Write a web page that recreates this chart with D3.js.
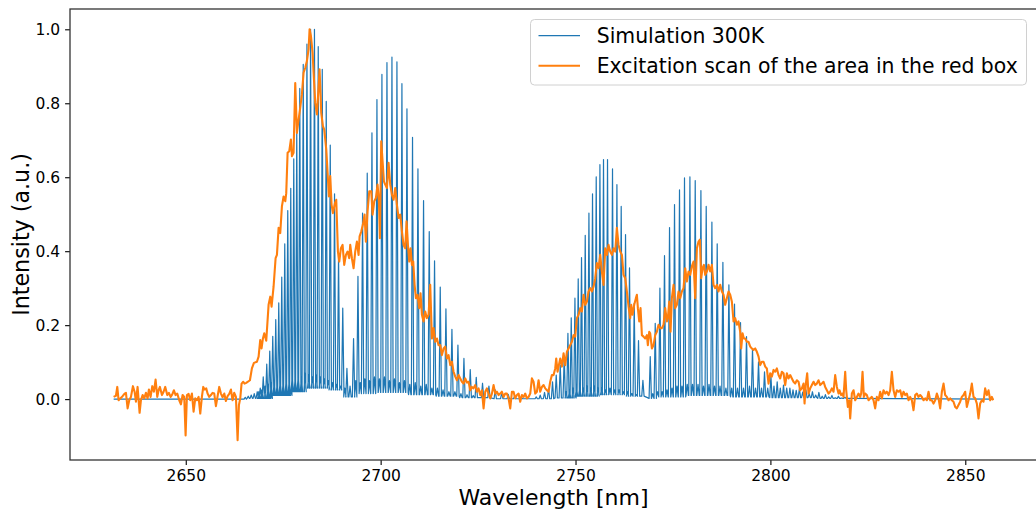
<!DOCTYPE html>
<html>
<head>
<meta charset="utf-8">
<script src="https://cdn.jsdelivr.net/npm/d3@7"></script>
<style>
  body { margin: 0; background: white; }
  text { font-family: "DejaVu Sans", sans-serif; fill: black; }
</style>
</head>
<body>
<div id="chart"></div>
<script>
"use strict"

const xTicks = [2650, 2700, 2750, 2800, 2850]
const yTicks = [0, 0.2, 0.4, 0.6, 0.8, 1.0]
const seriesNames = ["Simulation 300K", "Excitation scan of the area in the red box"]

// simulated spectrum: strong rovibrational lines [wavelength, intensity]
const simLines = [
  [2665.26,0.005],[2666.03,0.008],[2666.80,0.011],[2667.57,0.015],[2668.34,0.02],[2669.11,0.03],
  [2669.88,0.06],[2670.78,0.095],[2671.55,0.13],[2672.32,0.17],[2673.09,0.215],[2673.86,0.26],
  [2674.63,0.33],[2675.40,0.42],[2676.17,0.51],[2676.94,0.57],[2677.71,0.65],[2678.48,0.73],
  [2679.25,0.84],[2680.14,0.905],[2681.09,0.96],[2682.02,1.0],[2683.02,1.0],[2683.99,0.953],
  [2685.02,0.892],[2686.04,0.805],[2687.07,0.687],[2688.17,0.555],[2689.20,0.39],[2690.28,0.246],
  [2691.35,0.083],
  [2693.05,0.164],[2694.18,0.332],[2695.36,0.503],[2696.56,0.611],[2697.77,0.72],[2699.05,0.81],
  [2700.33,0.878],[2701.62,0.91],[2702.90,0.925],[2704.18,0.912],[2705.46,0.853],[2706.75,0.785],
  [2708.18,0.708],[2709.57,0.623],[2711.01,0.537],[2712.47,0.453],[2713.83,0.374],[2715.29,0.303],
  [2716.75,0.244],[2718.29,0.189],[2719.83,0.146],[2721.37,0.11],[2722.99,0.08],[2724.53,0.059],
  [2726.14,0.043],[2727.78,0.035],[2729.40,0.025],[2731.07,0.018],[2732.74,0.013],[2734.40,0.009],
  [2736.07,0.006],
  [2739.92,0.006],[2740.94,0.011],[2742.05,0.018],[2743.07,0.029],[2744.10,0.047],[2745.05,0.065],
  [2746.08,0.092],[2747.10,0.117],[2748.05,0.178],[2748.90,0.22],[2749.85,0.273],[2750.69,0.325],
  [2751.54,0.383],[2752.49,0.443],[2753.44,0.503],[2754.36,0.555],[2755.31,0.601],[2756.26,0.634],
  [2757.18,0.648],[2758.21,0.648],[2759.49,0.623],[2760.62,0.58],[2761.72,0.521],[2762.83,0.445],
  [2763.85,0.355],[2765.06,0.259],[2766.16,0.158],[2767.29,0.051],
  [2769.17,0.115],[2770.45,0.205],[2771.65,0.3],[2772.83,0.388],[2774.12,0.464],[2775.40,0.526],
  [2776.68,0.566],[2777.96,0.598],[2779.35,0.601],[2780.71,0.591],[2782.17,0.564],[2783.53,0.521],
  [2784.99,0.479],[2786.35,0.42],[2787.81,0.37],[2789.35,0.309],[2790.79,0.257],[2792.33,0.207],
  [2793.87,0.169],[2795.41,0.136],[2796.95,0.101],[2798.49,0.074],[2800.13,0.063],[2801.74,0.047],
  [2803.36,0.038],[2805.00,0.03],[2806.62,0.024],[2808.29,0.019],[2809.95,0.015],[2811.62,0.011],
  [2813.29,0.008],[2814.96,0.006],[2816.62,0.004],[2818.29,0.003],[2819.96,0.002]
]

// weak hot-band lines sitting between the strong ones
const simWeak = [
  [2668.73,0.02],[2669.50,0.025],[2670.34,0.035],[2671.17,0.04],[2671.93,0.045],[2672.70,0.05],
  [2673.47,0.045],[2674.24,0.055],[2675.01,0.05],[2675.78,0.06],[2676.55,0.055],[2677.32,0.065],
  [2678.09,0.06],[2678.86,0.065],[2679.68,0.06],[2680.61,0.07],[2681.55,0.065],[2682.50,0.06],
  [2683.48,0.065],[2684.51,0.06],[2685.53,0.055],[2686.56,0.05],[2687.58,0.045],[2688.69,0.04],
  [2689.74,0.035],[2690.82,0.03],[2692.15,0.035],[2693.61,0.05],[2694.77,0.045],[2695.95,0.055],
  [2697.15,0.05],[2698.41,0.06],[2699.69,0.055],[2700.98,0.06],[2702.26,0.05],[2703.54,0.055],
  [2704.82,0.045],[2706.11,0.05],[2707.47,0.04],[2708.88,0.045],[2710.29,0.035],[2711.70,0.04],
  [2713.14,0.03],[2714.57,0.03],[2716.01,0.025],[2717.52,0.02],[2719.06,0.02],[2720.60,0.015],
  [2722.17,0.012],[2723.76,0.01],
  [2747.61,0.02],[2748.46,0.025],[2749.36,0.03],[2750.26,0.03],[2751.10,0.035],[2752.00,0.03],
  [2752.95,0.035],[2753.90,0.03],[2754.82,0.035],[2755.77,0.03],[2756.72,0.03],[2757.70,0.025],
  [2758.85,0.03],[2760.06,0.025],[2761.16,0.025],[2762.26,0.02],[2763.34,0.02],[2764.44,0.015],
  [2765.60,0.012],
  [2769.81,0.015],[2771.04,0.02],[2772.24,0.02],[2773.47,0.025],[2774.76,0.03],[2776.04,0.035],
  [2777.32,0.035],[2778.66,0.04],[2780.02,0.04],[2781.43,0.04],[2782.84,0.035],[2784.25,0.04],
  [2785.66,0.035],[2787.07,0.035],[2788.58,0.03],[2790.07,0.03],[2791.56,0.03],[2793.10,0.03],
  [2794.64,0.035],[2796.18,0.03],[2797.72,0.03],[2799.31,0.03],[2800.92,0.035],[2802.54,0.03],
  [2804.18,0.03],[2805.80,0.025],[2807.44,0.028],[2809.11,0.025],[2810.78,0.02],[2812.44,0.018],
  [2814.11,0.012],[2815.78,0.01],[2817.45,0.008],[2819.11,0.005]
]

// level the simulation falls back to between lines
const simFloor = [
  [2631.5,0],[2666,0.002],[2672,0.01],[2677,0.02],[2681,0.03],[2687,0.025],[2690.5,0.006],
  [2694,0.015],[2699,0.018],[2707,0.012],[2714,0.008],[2720,0.004],[2728,0.001],[2745,0.003],
  [2750,0.008],[2756,0.012],[2763,0.008],[2767.5,0.002],[2771,0.006],[2778,0.01],[2790,0.006],
  [2800,0.004],[2812,0.002],[2820,0],[2857.2,0]
]

// measured excitation scan [wavelength, intensity]
const scan = [
  [2631.49,0.006],[2632.08,0.009],[2632.43,0.033],[2632.77,-0.003],[2633.20,0.002],[2633.79,0.008],
  [2634.31,0.015],[2634.65,0.017],[2635.08,-0.025],[2635.50,-0.003],[2635.93,0.006],[2636.45,0.035],
  [2636.87,0.020],[2637.22,-0.007],[2637.64,0.033],[2638.16,-0.037],[2638.50,-0.003],[2638.93,0.011],
  [2639.35,0.002],[2639.78,0.017],[2640.21,0.002],[2640.55,0.026],[2640.98,0.006],[2641.41,0.035],
  [2641.83,0.020],[2642.26,0.053],[2642.69,0.006],[2643.03,0.024],[2643.37,0.033],[2643.89,0.011],
  [2644.31,0.020],[2644.74,0.033],[2645.25,0.011],[2645.68,0.017],[2646.11,0.006],[2646.54,0.013],
  [2646.96,0.024],[2647.39,0.011],[2647.82,0.015],[2648.33,-0.003],[2648.76,-0.014],[2649.19,0.011],
  [2649.61,0.006],[2649.96,-0.098],[2650.30,0.011],[2650.73,0.014],[2651.15,-0.003],[2651.58,0.015],
  [2652.01,-0.034],[2652.44,0.002],[2652.86,-0.003],[2653.29,0.006],[2653.72,-0.039],[2654.14,0.006],
  [2654.49,0.033],[2654.83,0.026],[2655.26,0.029],[2655.60,0.015],[2656.03,0.006],[2656.46,0.011],
  [2656.88,0.017],[2657.31,0.015],[2657.74,-0.019],[2658.17,0.008],[2658.59,0.033],[2659.02,0.015],
  [2659.45,0.005],[2659.88,0.015],[2660.30,-0.005],[2660.73,0.008],[2661.16,0.014],[2661.59,0.026],
  [2662.01,-0.003],[2662.44,0.017],[2662.87,0.006],[2663.30,-0.111],[2663.64,-0.016],[2663.98,0.002],
  [2664.32,0.042],[2664.75,0.047],[2665.09,0.042],[2665.52,0.044],[2665.95,0.047],[2666.46,0.051],
  [2666.97,0.083],[2667.49,0.098],
  [2668.26,0.101],[2668.69,0.115],[2669.11,0.160],[2669.45,0.137],[2669.80,0.164],[2670.14,0.178],
  [2670.65,0.158],[2671.25,0.255],[2671.68,0.277],[2672.02,0.250],[2672.53,0.304],[2673.05,0.381],
  [2673.39,0.390],[2673.82,0.463],[2674.24,0.449],[2674.67,0.521],[2675.10,0.548],[2675.53,0.535],
  [2675.78,0.557],[2676.13,0.666],[2676.55,0.670],[2676.98,0.702],[2677.24,0.657],[2677.66,0.666],
  [2678.09,0.855],[2678.52,0.720],[2678.95,0.756],[2679.37,0.788],[2679.80,0.824],[2680.23,0.883],
  [2680.66,0.896],[2681.08,0.914],[2681.51,0.946],[2681.77,1.000],[2682.11,0.982],[2682.54,0.937],
  [2682.80,0.883],[2683.22,0.801],[2683.65,0.770],[2683.99,0.828],[2684.33,0.892],[2684.76,0.774],
  [2685.19,0.738],[2685.53,0.729],[2686.05,0.675],[2686.39,0.612],[2686.73,0.548],[2687.07,0.603],
  [2687.41,0.526],[2687.76,0.503],[2688.27,0.530],[2688.61,0.539],
  [2689.04,0.399],[2689.38,0.372],[2689.81,0.408],[2690.23,0.417],[2690.66,0.363],[2691.09,0.390],
  [2691.52,0.399],[2691.94,0.381],[2692.20,0.417],[2692.63,0.381],[2693.06,0.354],[2693.48,0.399],
  [2693.91,0.426],[2694.34,0.390],[2694.60,0.440],[2695.02,0.453],[2695.45,0.472],[2695.88,0.499],
  [2696.22,0.426],[2696.65,0.508],[2697.08,0.562],[2697.59,0.562],[2697.93,0.499],[2698.36,0.535],
  [2698.79,0.544],[2699.21,0.580],[2699.56,0.535],[2699.81,0.435],[2700.15,0.697],[2700.50,0.643],
  [2700.84,0.589],[2701.18,0.580],[2701.61,0.571],[2702.04,0.639],[2702.46,0.580],[2702.89,0.553],
  [2703.32,0.539],[2703.75,0.571],[2704.17,0.526],[2704.60,0.490],[2705.03,0.499],[2705.46,0.453],
  [2705.88,0.417],[2706.31,0.408],[2706.65,0.481],[2707.00,0.417],[2707.34,0.372],[2707.68,0.408],
  [2708.02,0.363],[2708.36,0.372],[2708.71,0.309],[2709.05,0.273],[2709.48,0.282],[2709.90,0.246],
  [2710.24,0.286],[2710.59,0.228],[2711.01,0.210],[2711.44,0.237],[2711.87,0.219],[2712.30,0.228],
  [2712.72,0.309],[2713.15,0.164],[2713.58,0.192],[2714.01,0.155],[2714.44,0.164],[2714.86,0.146],
  [2715.29,0.146],[2715.72,0.119],[2716.15,0.137],[2716.57,0.142],[2717.00,0.110],[2717.43,0.119],
  [2717.86,0.092],[2718.28,0.101],[2718.71,0.074],[2719.14,0.061],[2719.57,0.051],[2719.99,0.065],
  [2720.42,0.056],[2720.85,0.047],[2721.28,0.042],
  [2721.70,0.056],[2722.13,0.045],[2722.56,0.047],[2722.99,0.024],[2723.40,0.033],[2723.84,0.029],
  [2724.27,0.038],[2724.70,0.020],[2725.13,0.029],[2725.55,0.011],[2725.98,0.024],[2726.41,-0.025],
  [2726.84,0.020],[2727.26,0.029],[2727.69,0.015],[2728.12,0.002],[2728.55,0.015],[2728.97,0.038],
  [2729.40,0.015],[2729.83,0.020],[2730.26,0.011],[2730.68,0.015],[2731.11,0.020],[2731.54,0.006],
  [2731.97,0.015],[2732.39,0.015],[2732.82,0.002],[2733.25,-0.025],[2733.68,0.020],[2734.10,0.020],
  [2734.53,0.002],[2734.96,0.011],[2735.39,0.015],[2735.81,-0.007],[2736.24,0.011],[2736.67,0.006],
  [2737.10,0.015],[2737.52,0.002],[2737.95,0.006],[2738.38,0.015],[2738.81,0.056],[2739.23,0.047],
  [2739.66,0.015],[2740.09,0.020],[2740.52,0.051],[2740.94,0.020],[2741.37,0.033],[2741.80,0.038],
  [2742.23,0.029],[2742.66,0.024],[2743.08,0.020],[2743.51,0.047],[2743.94,0.065],[2744.37,0.065],
  [2744.79,0.083],[2745.05,0.110],[2745.39,0.074],[2745.73,0.092],[2746.08,0.110],[2746.50,0.088],
  [2746.93,0.124],[2747.36,0.092],[2747.79,0.128],[2748.21,0.137],[2748.64,0.146],[2749.07,0.155],
  [2749.50,0.173],[2749.92,0.169],[2750.35,0.219],[2750.78,0.228],[2751.21,0.246],[2751.63,0.237],
  [2752.06,0.282],[2752.49,0.255],[2752.92,0.264],[2753.34,0.291],[2753.77,0.300],[2754.20,0.291],
  [2754.63,0.304],[2755.05,0.327],[2755.48,0.368],[2755.91,0.354],[2756.34,0.390],[2756.76,0.345],
  [2757.19,0.309],[2757.62,0.408],[2758.05,0.390],[2758.47,0.417],[2758.90,0.399],[2759.33,0.390],
  [2759.76,0.408],[2760.19,0.399],[2760.61,0.463],[2761.04,0.417],[2761.47,0.399],[2761.90,0.390],
  [2762.32,0.336],[2762.75,0.327],[2763.18,0.291],[2763.61,0.250],
  [2764.03,0.219],[2764.29,0.255],[2764.63,0.228],[2765.06,0.255],[2765.49,0.273],[2765.74,0.282],
  [2766.00,0.246],[2766.34,0.210],[2766.68,0.246],[2767.03,0.173],[2767.45,0.169],[2767.88,0.164],
  [2768.31,0.173],[2768.56,0.146],[2768.91,0.182],[2769.16,0.178],[2769.59,0.137],[2770.02,0.146],
  [2770.45,0.173],[2770.87,0.182],[2771.30,0.201],[2771.73,0.192],[2772.16,0.192],[2772.58,0.201],
  [2773.01,0.246],[2773.44,0.210],[2773.70,0.219],[2774.04,0.264],[2774.38,0.182],[2774.72,0.273],
  [2775.15,0.309],[2775.58,0.246],[2776.00,0.255],[2776.43,0.291],[2776.86,0.273],[2777.29,0.291],
  [2777.71,0.300],[2778.14,0.354],[2778.57,0.318],[2779.00,0.345],[2779.43,0.336],[2779.85,0.359],
  [2780.28,0.372],[2780.71,0.273],[2781.14,0.408],[2781.56,0.426],[2781.91,0.431],[2782.25,0.327],
  [2782.59,0.354],[2782.93,0.363],[2783.27,0.336],[2783.70,0.345],[2784.13,0.363],[2784.56,0.345],
  [2784.98,0.363],[2785.41,0.309],[2785.84,0.300],[2786.27,0.309],[2786.69,0.291],[2787.12,0.309],
  [2787.55,0.291],[2787.98,0.282],[2788.40,0.255],[2788.83,0.273],[2789.26,0.291],[2789.69,0.282],
  [2790.11,0.264],[2790.54,0.210],[2790.97,0.219],[2791.40,0.201],[2791.82,0.210],[2792.25,0.182],
  [2792.51,0.137],[2792.85,0.178],[2793.19,0.164],[2793.54,0.164],[2793.96,0.155],[2794.39,0.155],
  [2794.82,0.142],[2795.25,0.137],[2795.67,0.133],[2796.10,0.137],[2796.53,0.128],[2796.96,0.115],
  [2797.38,0.092],[2797.81,0.101],[2798.24,0.101],[2798.67,0.088],[2799.09,0.083],[2799.52,0.042],
  [2799.95,0.070],[2800.38,0.061],[2800.80,0.079],[2801.23,0.074],[2801.66,0.083],[2802.09,0.065],
  [2802.51,0.056],[2802.94,0.074],[2803.37,0.070],[2803.80,0.038],[2804.23,0.070],[2804.65,0.056],
  [2805.08,0.065],[2805.51,0.056],[2805.93,0.047],
  [2806.36,0.042],[2806.79,0.051],[2807.22,0.047],[2807.64,0.024],[2808.07,0.029],[2808.50,0.042],
  [2808.76,-0.012],[2809.10,0.042],[2809.44,0.070],[2809.78,0.015],[2810.21,0.029],[2810.64,0.038],
  [2811.07,0.047],[2811.49,0.038],[2811.92,0.042],[2812.35,0.051],[2812.78,0.038],[2813.20,0.042],
  [2813.63,0.047],[2814.06,0.033],[2814.49,0.024],[2814.91,0.015],[2815.34,0.020],[2815.77,0.029],
  [2816.20,0.020],[2816.62,0.065],[2817.05,0.033],[2817.48,0.015],[2817.74,0.024],[2818.16,0.011],
  [2818.51,0.015],[2818.76,0.006],[2819.19,0.074],[2819.45,0.024],[2819.87,-0.021],[2820.22,-0.003],
  [2820.47,-0.052],[2820.90,0.015],[2821.33,0.024],[2821.75,-0.003],[2822.18,0.006],[2822.61,0.015],
  [2823.04,0.006],[2823.29,0.015],[2823.64,0.074],[2823.98,0.006],[2824.32,0.015],[2824.75,0.011],
  [2825.18,-0.003],[2825.60,0.002],[2826.03,0.006],[2826.46,-0.003],[2826.88,-0.025],[2827.31,0.006],
  [2827.74,-0.003],[2828.17,0.020],[2828.60,0.002],[2829.02,0.024],[2829.45,0.015],[2829.88,0.020],
  [2830.31,0.011],[2830.73,0.024],[2831.16,0.074],[2831.59,0.024],[2832.02,0.006],[2832.44,0.024],
  [2832.87,0.020],[2833.30,0.024],[2833.73,0.006],[2834.15,0.020],[2834.58,0.011],[2835.01,0.015],
  [2835.44,-0.003],[2835.86,0.006],[2836.29,-0.003],[2836.72,-0.030],[2837.15,0.011],[2837.57,0.015],
  [2838.00,0.006],[2838.43,0.011],[2838.86,0.006],[2839.29,-0.003],[2839.71,0.002],[2840.14,-0.003],
  [2840.57,0.020],[2841.00,-0.003],[2841.42,-0.003],[2841.85,-0.012],[2842.28,-0.003],[2842.71,0.015],
  [2843.13,0.002],[2843.56,-0.025],[2843.99,0.020],[2844.42,0.042],[2844.84,0.011],[2845.27,0.006],
  [2845.70,-0.003],[2846.13,0.002],[2846.55,-0.003],[2846.98,-0.007],[2847.41,-0.021],[2847.84,-0.025],
  [2848.26,-0.016],[2848.69,-0.007],[2849.12,0.006],[2849.55,0.011],[2849.97,0.020],[2850.40,-0.021],
  [2850.83,-0.003],[2851.26,0.015],[2851.68,0.042],[2852.11,0.006],[2852.54,0.002],[2852.97,-0.012],
  [2853.39,-0.052],[2853.82,-0.012],[2854.25,-0.003],[2854.68,-0.007],[2855.10,0.029],[2855.53,0.011],
  [2855.96,0.024],[2856.39,-0.003],[2856.81,0.006],[2857.16,-0.003]
]

const colors = ["#1f77b4", "#ff7f0e"]

function floorAt(w) {
  let level = simFloor[0][1]
  for (const [k, v] of simFloor) if (k <= w) level = v
  return level
}

// each line becomes a narrow spike rising from the local floor
function simPoints() {
  const lines = simLines.concat(simWeak).sort((a, b) => a[0] - b[0])
  const pts = [simFloor[0]]
  lines.forEach(([w, h]) => {
    const f = Math.min(floorAt(w), h)
    pts.push([w - 0.3, f], [w, h], [w + 0.3, f])
  })
  pts.push(simFloor[simFloor.length - 1])
  return pts
}

function drawChart() {
  const width = 1036, height = 510
  const margin = {top: 9, right: -1, bottom: 50, left: 70}

  const svg = d3.select("#chart").append("svg")
    .attr("width", width)
    .attr("height", height)
    .attr("viewBox", `0,0,${width},${height}`)

  svg.append("rect").attr("width", width).attr("height", height).attr("fill", "white")

  const x = d3.scaleLinear()
    .domain([2620.3, 2868.4])
    .range([margin.left, width - margin.right])

  const y = d3.scaleLinear()
    .domain([-0.1646, 1.0549])
    .range([height - margin.bottom, margin.top])

  svg.append("clipPath").attr("id", "plot-clip")
    .append("rect")
      .attr("x", margin.left).attr("y", margin.top)
      .attr("width", width - margin.right - margin.left)
      .attr("height", height - margin.bottom - margin.top)

  const line = d3.line().x(d => x(d[0])).y(d => y(d[1]))

  const plot = svg.append("g").attr("clip-path", "url(#plot-clip)")

  plot.append("path")
    .datum(simPoints())
    .attr("d", line)
    .attr("fill", "none")
    .attr("stroke", colors[0])
    .attr("stroke-width", 1.2)
    .attr("stroke-linejoin", "round")

  plot.append("path")
    .datum(scan)
    .attr("d", line)
    .attr("fill", "none")
    .attr("stroke", colors[1])
    .attr("stroke-width", 2.1)
    .attr("stroke-linejoin", "round")

  const axisBottom = d3.axisBottom(x)
    .tickValues(xTicks)
    .tickFormat(d3.format("d"))
    .tickSize(4.9)
    .tickSizeOuter(0)
    .tickPadding(4.9)

  const axisLeft = d3.axisLeft(y)
    .tickValues(yTicks)
    .tickFormat(d3.format(".1f"))
    .tickSize(4.9)
    .tickSizeOuter(0)
    .tickPadding(4.9)

  const gx = svg.append("g")
    .attr("transform", `translate(0 ${height - margin.bottom})`)
    .call(axisBottom)

  const gy = svg.append("g")
    .attr("transform", `translate(${margin.left} 0)`)
    .call(axisLeft)

  for (const g of [gx, gy]) {
    g.select(".domain").remove()
    g.selectAll(".tick line").attr("stroke", "black").attr("stroke-width", 1.1)
    g.selectAll(".tick text")
      .attr("fill", "black")
      .style("font-family", "DejaVu Sans")
      .style("font-size", "15.5px")
  }

  // axes frame
  svg.append("rect")
    .attr("x", margin.left)
    .attr("y", margin.top)
    .attr("width", width - margin.right - margin.left)
    .attr("height", height - margin.bottom - margin.top)
    .attr("fill", "none")
    .attr("stroke", "#333")
    .attr("stroke-width", 1.3)

  svg.append("text")
    .attr("x", (margin.left + width - margin.right) / 2)
    .attr("y", 505)
    .attr("text-anchor", "middle")
    .style("font-size", "22px")
    .text("Wavelength [nm]")

  svg.append("text")
    .attr("transform", `translate(29 ${(margin.top + height - margin.bottom) / 2}) rotate(-90)`)
    .attr("text-anchor", "middle")
    .style("font-size", "22.2px")
    .text("Intensity (a.u.)")

  // legend, upper right
  const legend = svg.append("g")
  legend.append("rect")
    .attr("x", 530.5)
    .attr("y", 19.5)
    .attr("width", 496)
    .attr("height", 65.5)
    .attr("rx", 4)
    .attr("fill", "white")
    .attr("fill-opacity", 0.8)
    .attr("stroke", "#d0d0d0")
    .attr("stroke-width", 1)

  const items = legend.selectAll("g")
    .data(seriesNames)
    .enter()
    .append("g")
    .attr("transform", (d, i) => `translate(0 ${35.7 + i * 30})`)

  items.append("line")
    .attr("x1", 538.5).attr("x2", 580)
    .attr("stroke", (d, i) => colors[i])
    .attr("stroke-width", (d, i) => i == 0 ? 1.2 : 2.1)

  items.append("text")
    .attr("x", 596.7)
    .attr("y", 7.6)
    .style("font-size", "20.4px")
    .text(d => d)
}

drawChart()
</script>
</body>
</html>
